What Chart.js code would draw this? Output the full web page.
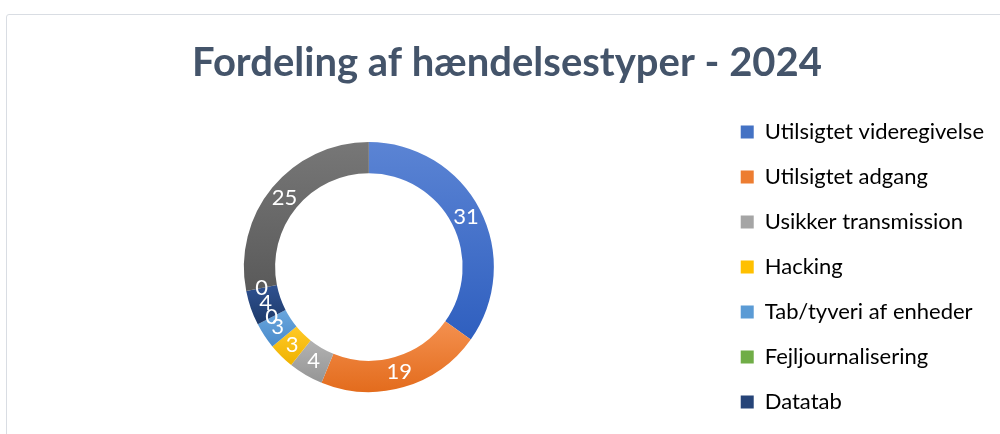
<!DOCTYPE html>
<html>
<head>
<meta charset="utf-8">
<script src="https://cdn.jsdelivr.net/npm/chart.js@4/dist/chart.umd.min.js"></script>
<style>
  html, body { margin: 0; padding: 0; background: #fff; overflow: hidden; }
  #frame {
    position: absolute; left: 6px; top: 14px; width: 1100px; height: 600px;
    border: 1.5px solid #d9dde3; border-radius: 3px; box-sizing: border-box;
  }
  #wrap { position: absolute; left: 0; top: 0; width: 1000px; height: 454px; }
</style>
</head>
<body>
<div id="frame"></div>
<div id="wrap"><canvas id="donut" width="1000" height="454"></canvas></div>
<script>
const labels = [
  'Utilsigtet videregivelse',
  'Utilsigtet adgang',
  'Usikker transmission',
  'Hacking',
  'Tab/tyveri af enheder',
  'Fejljournalisering',
  'Datatab',
  'Ukendt',
  'Andet'
];
const counts = [31, 19, 4, 3, 3, 0, 4, 0, 25];

// top / bottom shade of each slice (office-style gradient)
const topColors = ['#5b84d4', '#f4904f', '#b2b2b2', '#ffc928', '#6aa6dd', '#7fba57', '#2f5190', '#b0541a', '#777777'];
const bottomColors = ['#2f5fbf', '#e36c1d', '#959595', '#efb200', '#4a8bcb', '#5e9a38', '#1e3a6a', '#8c3f0c', '#5a5a5a'];
const legendColors = ['#4472c4', '#ed7d31', '#a5a5a5', '#ffc000', '#5b9bd5', '#70ad47', '#264478', '#9e480e', '#636363'];

const textColor = '#44546a';
const total = counts.reduce((a, b) => a + b, 0);

function sliceGradient(context) {
  const i = context.dataIndex;
  const chart = context.chart;
  const area = chart.chartArea;
  if (!area || counts[i] === 0) return topColors[i];
  const cy = (area.top + area.bottom) / 2;
  let before = 0;
  for (let k = 0; k < i; k++) before += counts[k];
  const a0 = -Math.PI / 2 + before / total * 2 * Math.PI;
  const a1 = a0 + counts[i] / total * 2 * Math.PI;
  let yMin = Infinity, yMax = -Infinity;
  for (let s = 0; s <= 30; s++) {
    const a = a0 + (a1 - a0) * s / 30;
    [125, 94].forEach(r => {
      const y = cy + Math.sin(a) * r;
      yMin = Math.min(yMin, y);
      yMax = Math.max(yMax, y);
    });
  }
  const g = chart.ctx.createLinearGradient(0, yMin, 0, yMax);
  g.addColorStop(0, topColors[i]);
  g.addColorStop(1, bottomColors[i]);
  return g;
}

const valueLabels = {
  id: 'valueLabels',
  afterDatasetsDraw(chart) {
    const ctx = chart.ctx;
    const meta = chart.getDatasetMeta(0);
    ctx.save();
    ctx.fillStyle = '#ffffff';
    ctx.font = '22px Lato';
    ctx.textAlign = 'center';
    ctx.textBaseline = 'middle';
    meta.data.forEach((arc, i) => {
      const p = arc.getCenterPoint();
      ctx.fillText(String(counts[i]), p.x, p.y);
    });
    ctx.restore();
  }
};

// canvas is 20px taller than the window: the last legend rows fall outside, as in the frame
new Chart(document.getElementById('donut'), {
  type: 'doughnut',
  data: {
    labels: labels,
    datasets: [{
      data: counts,
      backgroundColor: sliceGradient,
      borderWidth: 0,
      radius: 125,
      cutout: '75%'
    }]
  },
  options: {
    responsive: false,
    animation: false,
    events: [],
    layout: { padding: { left: 20, right: 6 } },
    plugins: {
      title: {
        display: true,
        text: 'Fordeling af hændelsestyper - 2024',
        color: textColor,
        font: { family: 'Lato', size: 40, weight: 'bold', lineHeight: 0.8 },
        padding: { top: 47, bottom: 1 }
      },
      legend: {
        position: 'right',
        align: 'center',
        fullSize: false,
        labels: {
          color: textColor,
          font: { family: 'Lato', size: 22 },
          boxWidth: 13,
          boxHeight: 13,
          padding: 23,
          filter: item => item.index < 7,
          generateLabels(chart) {
            return labels.map((text, i) => ({
              text: text,
              fillStyle: legendColors[i],
              strokeStyle: legendColors[i],
              lineWidth: 0,
              index: i
            }));
          }
        }
      },
      tooltip: { enabled: false }
    }
  },
  plugins: [valueLabels]
});
</script>
</body>
</html>
